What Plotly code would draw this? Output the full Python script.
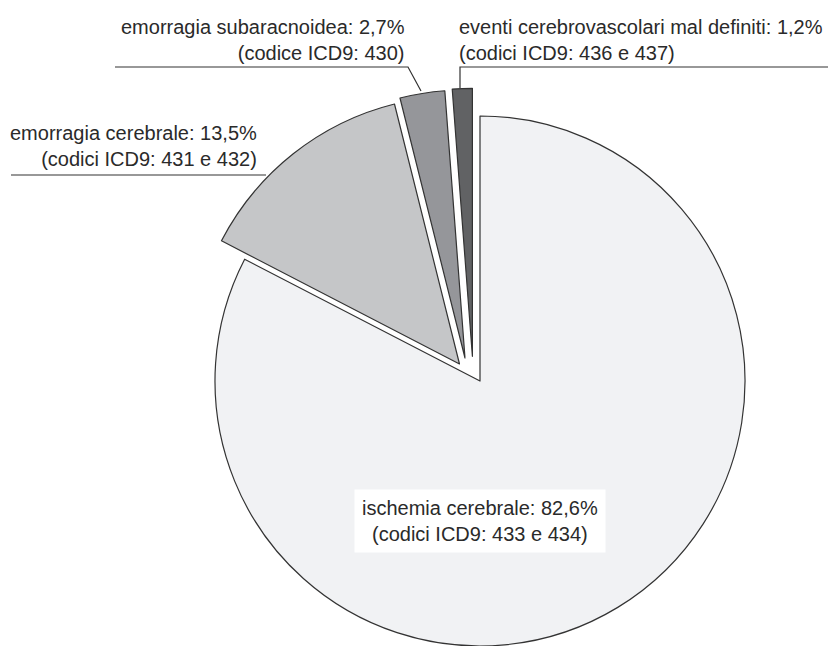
import plotly.graph_objects as go

W, H = 828, 646

# ---- data ----
categories = ["ischemia cerebrale", "emorragia cerebrale",
              "emorragia subaracnoidea", "eventi cerebrovascolari mal definiti"]
percent = [82.6, 13.5, 2.7, 1.2]
codes = ["(codici ICD9: 433 e 434)", "(codici ICD9: 431 e 432)",
         "(codice ICD9: 430)", "(codici ICD9: 436 e 437)"]

# ---- styling / layout ----
colors = ["#f1f2f4", "#c5c6c8", "#95969a", "#616264"]
edge = "#333333"
# visual tip position (px) and radius of each (exploded) slice
slice_pos = [(480, 381, 265), (459.5, 364, 268), (465, 358, 268), (472.4, 356.3, 268)]
FONT = "Liberation Sans, Arial, sans-serif"


def px(x):
    return x / W


def py(y):
    return 1 - y / H


fig = go.Figure()
n = len(percent)
for i, (cx, cy, r) in enumerate(slice_pos):
    fig.add_trace(go.Pie(
        values=percent,
        labels=categories,
        sort=False,
        direction="clockwise",
        rotation=0,
        textinfo="none",
        hoverinfo="label+percent",
        showlegend=False,
        marker=dict(
            colors=[colors[j] if j == i else "rgba(0,0,0,0)" for j in range(n)],
            line=dict(color=[edge if j == i else "rgba(0,0,0,0)" for j in range(n)],
                      width=[1.2 if j == i else 0 for j in range(n)]),
        ),
        domain=dict(x=[px(cx - r), px(cx + r)], y=[py(cy + r), py(cy - r)]),
    ))


def lab(i):
    return f"{categories[i]}: {str(percent[i]).replace('.', ',')}%<br>{codes[i]}"


font = dict(family=FONT, size=20, color="#2a2a2a")
annotations = [
    dict(text=lab(0), x=px(480), y=py(521), xanchor="center", yanchor="middle",
         align="center", bgcolor="white", borderpad=7),
    dict(text=lab(1), x=px(259), y=py(146), xanchor="right", yanchor="middle", align="right"),
    dict(text=lab(2), x=px(407), y=py(40), xanchor="right", yanchor="middle", align="right"),
    dict(text=lab(3), x=px(457), y=py(40), xanchor="left", yanchor="middle", align="left"),
]
for a in annotations:
    a.update(xref="paper", yref="paper", showarrow=False, font=font)

line = dict(color=edge, width=1.2)
paths = [
    [(115, 67), (408, 67), (421, 91)],
    [(11, 175), (266, 175)],
    [(828, 67), (460, 67), (460, 88)],
]
shapes = []
for pts in paths:
    d = "M " + " L ".join(f"{px(x)},{py(y)}" for x, y in pts)
    shapes.append(dict(type="path", path=d, xref="paper", yref="paper", line=line))

fig.update_layout(
    width=W, height=H,
    margin=dict(l=0, r=0, t=0, b=0),
    paper_bgcolor="white", plot_bgcolor="white",
    annotations=annotations, shapes=shapes,
    font=dict(family=FONT),
)

fig.write_html("out.html")
